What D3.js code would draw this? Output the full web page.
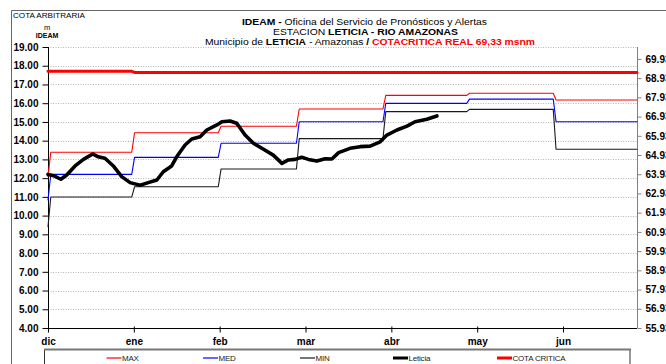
<!DOCTYPE html>
<html>
<head>
<meta charset="utf-8">
<script src="https://cdn.jsdelivr.net/npm/d3@7"></script>
<style>
  body { margin: 0; background: #fff; }
  svg { display: block; font-family: "Liberation Sans", Arial, sans-serif; }
</style>
</head>
<body>
<svg id="chart" width="666" height="364"></svg>
<script>
// ---- data ----
// Days counted from 1 December; the series runs daily to 30 June.
const monthLabels = ["dic", "ene", "feb", "mar", "abr", "may", "jun"];
const monthTickDays = [0, 30.75, 61.5, 92.25, 123, 153.75, 184.5];
const monthStartDays = [0, 31, 62, 90, 121, 151, 182];
const lastDay = 211;

const leftTickValues = [4, 5, 6, 7, 8, 9, 10, 11, 12, 13, 14, 15, 16, 17, 18, 19];
const rightTickValues = [55.93, 56.93, 57.93, 58.93, 59.93, 60.93, 61.93, 62.93,
                         63.93, 64.93, 65.93, 66.93, 67.93, 68.93, 69.93];

// Monthly reference levels (m, arbitrary gauge), first day listed separately
const maxFirstDay = 12.08;
const maxLevels = [13.38, 14.42, 14.77, 15.69, 16.42, 16.53, 16.17];
const medFirstDay = 10.83;
const medLevels = [12.20, 13.11, 13.86, 15.01, 15.99, 16.22, 15.01];
const minFirstDay = 9.41;
const minLevels = [10.99, 11.54, 12.49, 14.11, 15.55, 15.67, 13.54];
const cotaFirstDay = 17.70;
const cotaLevels = [17.70, 17.64, 17.64, 17.64, 17.64, 17.64, 17.64];

// Observed stage at Leticia
const leticiaDays = [0, 2, 4.6, 6.7, 9.7, 12.7, 16, 18, 20.4, 23.4, 26.4, 29.4, 33, 35.9, 39,
  41.3, 44.3, 46.1, 49.1, 51.5, 54.5, 56.9, 60.5, 62.3, 65.2, 67.6, 70.6, 73.6, 77.2, 80.7,
  83.8, 86.1, 88.5, 90.9, 93.3, 96.3, 99.3, 101.7, 104.1, 108.2, 111.8, 115.4, 119, 121.4,
  125, 128.6, 131.5, 135.7, 139.3];
const leticiaLevels = [12.20, 12.13, 11.94, 12.17, 12.65, 13.00, 13.29, 13.14, 13.06, 12.65,
  12.08, 11.76, 11.62, 11.76, 11.90, 12.34, 12.65, 13.14, 13.77, 14.09, 14.21, 14.57, 14.84,
  15.01, 15.05, 14.93, 14.30, 13.86, 13.54, 13.23, 12.79, 12.97, 13.00, 13.11, 13.00, 12.91,
  13.03, 13.02, 13.36, 13.59, 13.68, 13.71, 13.94, 14.30, 14.57, 14.78, 15.01, 15.14, 15.32];

// ---- layout ----
const svg = d3.select("#chart");
const plot = { left: 48, right: 637, top: 47, bottom: 328 };

const x = d3.scaleLinear().domain([0, lastDay]).range([plot.left, plot.right]);
const y = d3.scaleLinear().domain([4, 19]).range([plot.bottom, plot.top]);
const yR = d3.scaleLinear().domain([55.93, 70.55]).range([plot.bottom, plot.top]);

// Outer frame of the sheet
svg.append("path").attr("d", "M11.5,364V10.5H666")
  .attr("fill", "none").attr("stroke", "#666").attr("stroke-width", 1);

// Header
const hdr = svg.append("g").attr("fill", "#000");
hdr.append("text").attr("x", 13).attr("y", 18).attr("font-size", 7.8)
  .attr("textLength", 72).attr("lengthAdjust", "spacingAndGlyphs").text("COTA ARBITRARIA");
hdr.append("text").attr("x", 47).attr("y", 30).attr("font-size", 7.5)
  .attr("text-anchor", "middle").text("m");
hdr.append("text").attr("x", 47).attr("y", 37.5).attr("font-size", 7).attr("font-weight", "bold")
  .attr("text-anchor", "middle").text("IDEAM");

const t1 = hdr.append("text").attr("x", 242).attr("y", 24.5).attr("font-size", 9.2)
  .attr("textLength", 245).attr("lengthAdjust", "spacingAndGlyphs");
t1.append("tspan").attr("font-weight", "bold").text("IDEAM - ");
t1.append("tspan").text("Oficina del Servicio de Pronósticos y Alertas");

const t2 = hdr.append("text").attr("x", 273).attr("y", 35.3).attr("font-size", 9.2)
  .attr("textLength", 185).attr("lengthAdjust", "spacingAndGlyphs");
t2.append("tspan").text("ESTACION ");
t2.append("tspan").attr("font-weight", "bold").text("LETICIA - RIO AMAZONAS");

const t3 = hdr.append("text").attr("x", 205).attr("y", 45.3).attr("font-size", 9.2)
  .attr("textLength", 330).attr("lengthAdjust", "spacingAndGlyphs");
t3.append("tspan").text("Municipio de ");
t3.append("tspan").attr("font-weight", "bold").text("LETICIA");
t3.append("tspan").text(" - Amazonas  ");
t3.append("tspan").attr("font-weight", "bold").text("/  ");
t3.append("tspan").attr("font-weight", "bold").attr("fill", "#ff0000").text("COTACRITICA REAL 69,33 msnm");

// Gridlines
svg.append("g").selectAll("line")
  .data(leftTickValues.filter(v => v > 4))
  .join("line")
  .attr("x1", plot.left).attr("x2", plot.right)
  .attr("y1", d => Math.round(y(d)) + 0.5).attr("y2", d => Math.round(y(d)) + 0.5)
  .attr("stroke", "#b4b4b4").attr("stroke-width", 1).attr("stroke-dasharray", "1,1.5");

// Right border of the plot area + secondary axis
const rAxis = svg.append("g").attr("transform", `translate(${plot.right + 0.5},0)`)
  .call(d3.axisRight(yR).tickValues(rightTickValues).tickFormat(d3.format(".2f"))
    .tickSize(4).tickPadding(4));
rAxis.select(".domain").attr("stroke", "#808080").attr("d", `M0,${plot.top}V${plot.bottom}`);
rAxis.selectAll(".tick line").attr("stroke", "#808080");
rAxis.selectAll("text").attr("font-size", 10).attr("font-weight", "bold")
  .attr("font-family", "Liberation Sans, Arial, sans-serif").attr("fill", "#000");

// Left axis
const lAxis = svg.append("g").attr("transform", `translate(${plot.left + 0.5},0)`)
  .call(d3.axisLeft(y).tickValues(leftTickValues).tickFormat(d3.format(".2f"))
    .tickSize(6).tickPadding(4));
lAxis.select(".domain").attr("stroke", "#000").attr("d", `M0,${plot.top}V${plot.bottom}`);
lAxis.selectAll(".tick line").attr("stroke", "#000");
lAxis.selectAll("text").attr("font-size", 10).attr("font-weight", "bold")
  .attr("font-family", "Liberation Sans, Arial, sans-serif").attr("fill", "#000");

// Bottom axis
const bAxis = svg.append("g").attr("transform", `translate(0,${plot.bottom + 0.5})`)
  .call(d3.axisBottom(x).tickValues(monthTickDays).tickFormat((d, i) => monthLabels[i])
    .tickSize(4).tickPadding(4));
bAxis.select(".domain").attr("stroke", "#000").attr("d", `M${plot.left - 4},0H${plot.right}`);
bAxis.selectAll(".tick line").attr("stroke", "#000").attr("y1", -2);
bAxis.selectAll("text").attr("font-size", 10).attr("font-weight", "bold")
  .attr("font-family", "Liberation Sans, Arial, sans-serif").attr("fill", "#000")
  .attr("y", 16.2).attr("dy", null);

// Build a daily step path from the first-day value and the monthly levels
function stepPoints(first, levels) {
  const pts = [[0, first]];
  levels.forEach((v, i) => {
    const start = i === 0 ? 1 : monthStartDays[i];
    const end = i < levels.length - 1 ? monthStartDays[i + 1] - 1 : lastDay;
    pts.push([start, v], [end, v]);
  });
  return pts;
}

const line = d3.line().x(d => x(d[0])).y(d => y(d[1]));
const series = [
  { name: "MAX", pts: stepPoints(maxFirstDay, maxLevels), color: "#ff0000", width: 1.1 },
  { name: "MED", pts: stepPoints(medFirstDay, medLevels), color: "#0000ff", width: 1.1 },
  { name: "MIN", pts: stepPoints(minFirstDay, minLevels), color: "#1a1a1a", width: 1.1 },
  { name: "Leticia", pts: leticiaDays.map((d, i) => [d, leticiaLevels[i]]), color: "#000", width: 3.6 },
  { name: "COTA CRITICA", pts: stepPoints(cotaFirstDay, cotaLevels), color: "#ff0000", width: 3 }
];

svg.append("g").selectAll("path")
  .data(series)
  .join("path")
  .attr("d", d => line(d.pts))
  .attr("fill", "none")
  .attr("stroke", d => d.color)
  .attr("stroke-width", d => d.width)
  .attr("stroke-linejoin", "round")
  .attr("stroke-linecap", "round");

// Legend
const legend = svg.append("g");
legend.append("rect").attr("x", 44.5).attr("y", 349.5).attr("width", 585.5).attr("height", 30)
  .attr("fill", "#fff").attr("stroke", "#333").attr("stroke-width", 1);
legend.append("line").attr("x1", 44).attr("x2", 631).attr("y1", 349.5).attr("y2", 349.5)
  .attr("stroke", "#777").attr("stroke-width", 2);
const legendX = [106.5, 203, 300, 393, 497];
const items = legend.selectAll("g.item").data(series).join("g")
  .attr("transform", (d, i) => `translate(${legendX[i]},358)`);
items.append("line").attr("x1", 0).attr("x2", 15).attr("y1", 0).attr("y2", 0)
  .attr("stroke", d => d.color)
  .attr("stroke-width", d => d.width > 2 ? 3 : 1.2);
items.append("text").attr("x", 15.5).attr("y", 3).attr("font-size", 8)
  .attr("fill", "#222").attr("letter-spacing", -0.2).text(d => d.name);
</script>
</body>
</html>
